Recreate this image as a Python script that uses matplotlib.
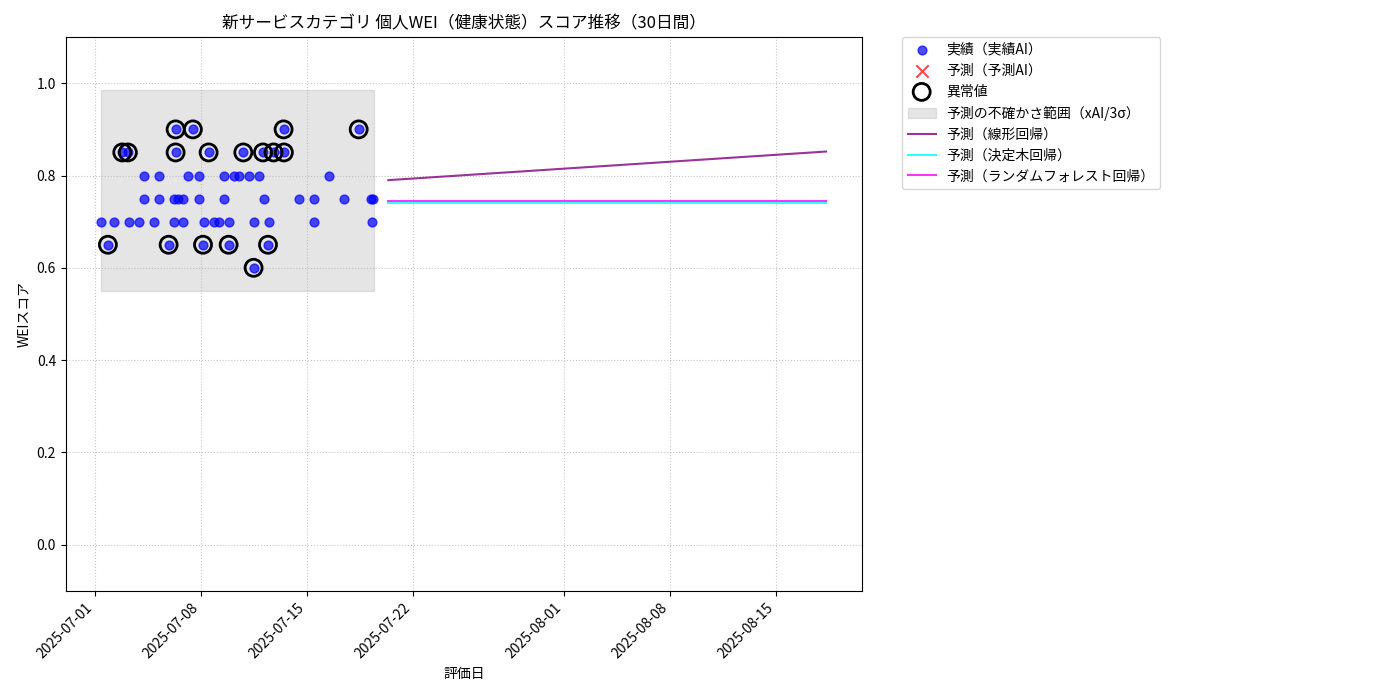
import matplotlib
matplotlib.use("Agg")
import matplotlib.pyplot as plt
import matplotlib.dates as mdates
import numpy as np
import pandas as pd

plt.rcParams['font.family'] = ['Noto Sans CJK JP', 'DejaVu Sans']

start = pd.Timestamp("2025-07-01")
# actual points: (day offset, score)
act_days = [5.35, 6.49, 12.48, 17.44,
            1.83, 2.20, 5.35, 7.53, 9.82, 11.12, 11.82, 12.50,
            3.26, 4.25, 6.17, 6.89, 8.54, 9.18, 9.51, 10.17, 10.83, 15.48,
            3.26, 4.25, 5.24, 5.50, 5.83, 6.89, 8.54, 11.18, 13.50, 14.49, 16.47, 18.23, 18.41,
            0.40, 1.28, 2.27, 2.94, 3.92, 5.24, 5.83, 7.22, 7.88, 8.21, 8.87, 10.52, 11.51, 14.49, 18.32,
            0.88, 4.89, 7.16, 8.85, 11.45,
            10.50]
act_vals = [0.9]*4 + [0.85]*8 + [0.8]*10 + [0.75]*13 + [0.7]*15 + [0.65]*5 + [0.6]
anom_days = [5.35, 6.49, 12.48, 17.44, 1.83, 2.20, 5.35, 7.53, 9.82, 11.12, 11.82, 12.50,
             0.88, 4.89, 7.16, 8.85, 11.45, 10.50]
anom_vals = [0.9]*4 + [0.85]*8 + [0.65]*5 + [0.6]
band_days = [0.40, 18.43]
band_lo, band_hi = 0.55, 0.985
pred_days = [19.4, 48.3]
lin_vals = [0.79, 0.852]
tree_vals = [0.74, 0.74]
rf_vals = [0.745, 0.745]

def d(days):
    return [start + pd.Timedelta(days=x) for x in days]

fig = plt.figure(figsize=(14, 7), dpi=100)
ax = fig.add_axes([0.047, 0.156, 0.569, 0.791])
ax.scatter(d(act_days), act_vals, color='blue', alpha=0.7, s=40, label='実績（実績AI）', zorder=3)
ax.scatter([], [], color='red', marker='x', s=80, alpha=0.7, label='予測（予測AI）')
ax.scatter(d(anom_days), anom_vals, facecolors='none', edgecolors='black', s=150, linewidths=2, label='異常値', zorder=4)
ax.fill_between(d(band_days), band_lo, band_hi, color='gray', alpha=0.2, label='予測の不確かさ範囲（xAI/3σ）')
ax.plot(d(pred_days), lin_vals, color='purple', alpha=0.8, label='予測（線形回帰）')
ax.plot(d(pred_days), tree_vals, color='cyan', alpha=0.8, label='予測（決定木回帰）')
ax.plot(d(pred_days), rf_vals, color='magenta', alpha=0.8, label='予測（ランダムフォレスト回帰）')

ax.set_xlim(start - pd.Timedelta(days=1.9), start + pd.Timedelta(days=50.7))
ax.set_ylim(-0.1, 1.1)
ticks = pd.to_datetime(["2025-07-01", "2025-07-08", "2025-07-15", "2025-07-22", "2025-08-01", "2025-08-08", "2025-08-15"])
ax.set_xticks(ticks)
ax.xaxis.set_major_formatter(mdates.DateFormatter('%Y-%m-%d'))
plt.setp(ax.get_xticklabels(), rotation=45, ha='right')
ax.grid(True, linestyle=':', alpha=0.7)
ax.set_title('新サービスカテゴリ 個人WEI（健康状態）スコア推移（30日間）')
ax.set_xlabel('評価日')
ax.set_ylabel('WEIスコア')
ax.legend(loc='upper left', bbox_to_anchor=(1.05, 1.0), borderaxespad=0.)
fig.savefig('out.png')
